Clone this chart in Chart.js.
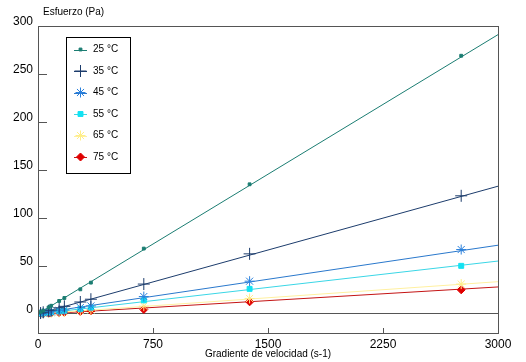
<!DOCTYPE html>
<html lang="es">
<head>
  <meta charset="UTF-8" />
  <title>Esfuerzo vs Gradiente de velocidad</title>
  <script src="https://cdn.jsdelivr.net/npm/chart.js"></script>
  <style>
    body { margin: 0; background: white; }
    #wrap { width: 526px; height: 362px; }
  </style>
</head>
<body>
<div id="wrap"><canvas id="chart" width="526" height="362"></canvas></div>

<script>
// shear rate (s-1) of the measured points
const gradiente = [17, 34, 69, 86, 138, 172, 276, 345, 690, 1380, 2760];

const temps = ['25 °C', '35 °C', '45 °C', '55 °C', '65 °C', '75 °C'];

// stress (Pa)
const esf25 = [1.7, 3.3, 6.7, 8.4, 13.4, 16.5, 25.5, 32.5, 68, 135, 269];
const esf35 = [0.8, 1.6, 3.2, 4.0, 6.3, 7.8, 12.3, 15.2, 31, 62.5, 123];
const esf45 = [0.4, 0.8, 1.7, 2.0, 3.3, 4.1, 6.5, 8.2, 18, 34, 67];
const esf55 = [0.3, 0.6, 1.3, 1.6, 2.6, 3.2, 5.1, 6.5, 14, 26, 50];
const esf65 = [0.2, 0.4, 0.8, 1.0, 1.6, 2.0, 3.2, 4.0, 8, 16, 31];
const esf75 = [0.2, 0.3, 0.6, 0.8, 1.2, 1.5, 2.4, 3.0, 4.5, 12.5, 25];

// fitted straight lines, value at 0 and at 3000 s-1
const ajusteX = [0, 3000];
const ajuste25 = [0, 291];
const ajuste35 = [0, 133];
const ajuste45 = [0.5, 71.5];
const ajuste55 = [0, 55];
const ajuste65 = [0, 33.5];
const ajuste75 = [-0.5, 28];

const xTicks = [0, 750, 1500, 2250, 3000];
const yTicks = [0, 50, 100, 150, 200, 250, 300];

const series = [
  { pts: esf25, fit: ajuste25, line: '#1b7d72', mark: '#1b7d72', style: 'rect', r: 2 },
  { pts: esf35, fit: ajuste35, line: '#1c3c6c', mark: '#1c3c6c', style: 'cross', r: 6 },
  { pts: esf45, fit: ajuste45, line: '#2a78cc', mark: '#2a80dc', style: 'star', r: 5 },
  { pts: esf55, fit: ajuste55, line: '#3ad6e6', mark: '#12e2f2', style: 'rect', r: 3.5 },
  { pts: esf65, fit: ajuste65, line: '#fff0a0', mark: '#ffee88', style: 'star', r: 5 },
  { pts: esf75, fit: ajuste75, line: '#c41414', mark: '#e00000', style: 'rectRot', r: 4 },
];

const toXY = (xs, ys) => xs.map((x, i) => ({ x: x, y: ys[i] }));

const datasets = [];
series.forEach((s, i) => {
  datasets.push({
    label: temps[i], data: toXY(gradiente, s.pts), showLine: false,
    pointStyle: s.style, pointRadius: s.r, borderWidth: 1,
    borderColor: s.mark, backgroundColor: s.mark
  });
});
series.forEach((s, i) => {
  datasets.push({
    label: temps[i] + ' ajuste', data: toXY(ajusteX, s.fit), showLine: true,
    pointRadius: 0, borderWidth: 1, borderColor: s.line, fill: false
  });
});

const axisColor = '#555';

// frame, inner ticks, y title and the boxed legend
const extras = {
  id: 'extras',
  afterDraw(chart) {
    const ctx = chart.ctx;
    const a = chart.chartArea;
    const xs = chart.scales.x, ys = chart.scales.y;
    ctx.save();
    ctx.strokeStyle = axisColor;
    ctx.lineWidth = 1;
    ctx.strokeRect(a.left + 0.5, a.top + 0.5, a.right - a.left, a.bottom - a.top);
    ctx.beginPath();
    yTicks.slice(1, -1).forEach(v => {
      const y = Math.round(ys.getPixelForValue(v)) + 0.5;
      ctx.moveTo(a.left, y); ctx.lineTo(a.left + 9, y);
    });
    xTicks.slice(1, -1).forEach(v => {
      const x = Math.round(xs.getPixelForValue(v)) + 0.5;
      ctx.moveTo(x, a.bottom); ctx.lineTo(x, a.bottom - 5);
    });
    ctx.stroke();

    ctx.fillStyle = '#000';
    ctx.font = '10px "Liberation Sans", Arial, sans-serif';
    ctx.textBaseline = 'middle';
    ctx.fillText('Esfuerzo (Pa)', a.left + 5, 12);

    // legend
    const bx = 66, by = 37, bw = 64, bh = 136;
    ctx.fillStyle = 'white';
    ctx.fillRect(bx, by, bw, bh);
    ctx.strokeStyle = '#000';
    ctx.strokeRect(bx + 0.5, by + 0.5, bw, bh);
    series.forEach((s, i) => {
      const cy = by + 12.5 + i * 21.5;
      ctx.strokeStyle = s.line;
      ctx.beginPath();
      ctx.moveTo(bx + 8, Math.round(cy) + 0.5); ctx.lineTo(bx + 21, Math.round(cy) + 0.5);
      ctx.stroke();
      ctx.fillStyle = s.mark; ctx.strokeStyle = s.mark;
      Chart.helpers.drawPoint(ctx, { pointStyle: s.style, radius: s.r, rotation: 0, borderWidth: 1 }, bx + 14.5, cy);
      ctx.fillStyle = '#000';
      ctx.fillText(temps[i], bx + 27, cy);
    });
    ctx.restore();
  }
};

const tickFont = { family: '"Liberation Sans", Arial, sans-serif', size: 12 };

new Chart(document.getElementById('chart'), {
  type: 'scatter',
  data: { datasets: datasets },
  options: {
    responsive: false,
    animation: false,
    layout: { padding: { top: 26, right: 28, left: 0, bottom: 0 } },
    plugins: { legend: { display: false }, tooltip: { enabled: false } },
    scales: {
      x: {
        type: 'linear', min: 0, max: 3000,
        afterBuildTicks: s => { s.ticks = xTicks.map(v => ({ value: v })); },
        afterFit: s => { s.height = 29; },
        grid: { color: 'transparent', drawTicks: false },
        border: { color: axisColor },
        ticks: { color: '#000', padding: 4, font: tickFont, callback: v => String(v) },
        title: {
          display: true, text: 'Gradiente de velocidad (s-1)', color: '#000',
          font: { family: '"Liberation Sans", Arial, sans-serif', size: 10 },
          padding: { top: 0, bottom: 2 }
        }
      },
      y: {
        type: 'linear', min: -20, max: 300,
        afterBuildTicks: s => { s.ticks = yTicks.map(v => ({ value: v })); },
        afterFit: s => { s.width = 38; },
        grid: { color: c => c.tick && c.tick.value === 0 ? axisColor : 'transparent', drawTicks: false },
        border: { color: axisColor },
        ticks: { color: '#000', padding: 5, labelOffset: -4, font: tickFont, callback: v => String(v) }
      }
    }
  },
  plugins: [extras]
});
</script>
</body>
</html>
